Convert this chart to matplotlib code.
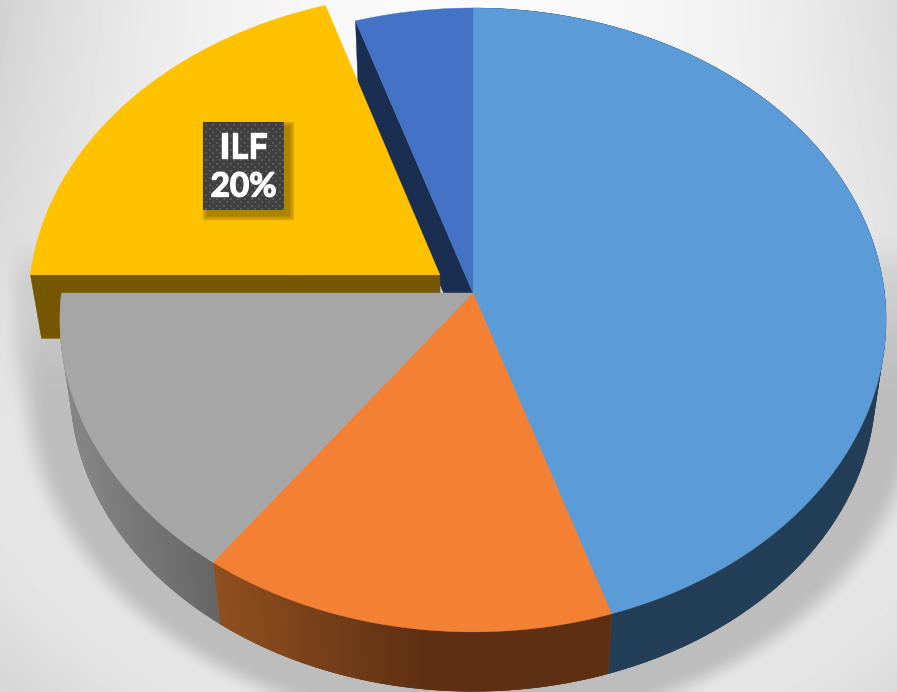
import numpy as np
import matplotlib
matplotlib.use('Agg')
import matplotlib.pyplot as plt
import matplotlib.patheffects as pe
from matplotlib.patches import Polygon, Rectangle
from matplotlib.colors import to_rgb

# slices, clockwise from 12 o'clock
slice_names = ['A', 'B', 'C', 'ILF', 'D']
shares = [45, 15, 15, 20, 5]
face_colors = ['#5B9BD7', '#F38033', '#A6A6A6', '#FFC200', '#4472C4']
label_text = 'ILF\n20%'

W, H = 897, 692
CX, CY = 473, 293       # pie centre on screen
A, B, K = 411.5, 309.6, 0.0864   # perspective of the disc
SCALE, DEPTH = 0.975, 68         # lower disc of the cylinder
EXPLODE = 0.1


def project(x, y, down=0, scale=1.0):
    den = 1 + K * y
    sx = A * x / den
    sy = -B * y / den
    return CX + scale * sx, CY + down + scale * sy


def arc_xy(a0, a1, n=120):
    t = np.radians(np.linspace(a0, a1, n))
    return np.sin(t), np.cos(t)


def smooth(v, lo, hi):
    u = np.clip((v - lo) / (hi - lo), 0, 1)
    return u * u * (3 - 2 * u)


def background():
    yy, xx = np.mgrid[0:H, 0:W].astype(float)
    dx = (xx - 473) / 470
    top = 250 - 28 * dx**2 - 12 * dx**4 * np.clip(1 - yy / 300, 0, 1)
    g = top * (1 - smooth(yy, 200, 480)) + 229 * smooth(yy, 200, 480)
    # distance outside the lower disc
    rho = np.sqrt(((xx - CX) / 403)**2 + ((yy - (CY + DEPTH + 26)) / 307)**2)
    d = (rho - 1) * 350
    g = g - 14 * smooth(rho, 1.2, 1.55) * smooth(yy, 350, 692)
    shadow = (1 - smooth(d, 22, 52)) * smooth(yy, 270, 390)
    g = g * (1 - shadow) + 189 * shadow
    # faint shade left of the pulled out slice
    left = (1 - smooth(445 - xx, 418, 445)) * smooth(yy, 225, 290) * (1 - smooth(yy, 340, 420))
    g = g * (1 - 0.55 * left) + 190 * 0.55 * left
    return g


fig = plt.figure(figsize=(W / 100, H / 100), dpi=100)
ax = fig.add_axes([0, 0, 1, 1])
ax.imshow(background(), cmap='gray', vmin=0, vmax=255, extent=(0, W, H, 0),
          interpolation='bilinear', zorder=0)

edges = np.cumsum([0] + shares) * 3.6
angle = dict((n, (edges[i], edges[i + 1])) for i, n in enumerate(slice_names))
face = dict(zip(slice_names, face_colors))


def add_poly(xs, ys, color, z, lw=0.3):
    ax.add_patch(Polygon(np.column_stack([xs, ys]), closed=True, fc=color, ec=color,
                         lw=lw, zorder=z))


def draw_face(name, z, ox=0.0, oy=0.0):
    a0, a1 = angle[name]
    x, y = arc_xy(a0, a1)
    xs, ys = project(np.r_[ox, x + ox], np.r_[oy, y + oy])
    add_poly(xs, ys, face[name], z)


def draw_wall(name, c0, c1, x0, x1, z):
    # strips along the rim, colour follows screen x between x0 and x1
    a0, a1 = angle[name]
    t = np.radians(np.linspace(a0, a1, 90))
    x, y = np.sin(t), np.cos(t)
    tx, ty = project(x, y)
    bx, by = project(x, y, DEPTH, SCALE)
    c0, c1 = np.array(to_rgb(c0)), np.array(to_rgb(c1))
    # one piece under the strips so no seams show
    add_poly(np.r_[tx, bx[::-1]], np.r_[ty, by[::-1]], tuple((c0 + c1) / 2), z)
    for i in range(len(t) - 1):
        u = np.clip((tx[i] - x0) / (x1 - x0), 0, 1)
        c = tuple(c0 + (c1 - c0) * u)
        # overlap next strip by one step
        j = min(i + 2, len(t) - 1)
        ax.add_patch(Polygon(np.column_stack([[tx[i], tx[j], bx[j], bx[i]],
                                              [ty[i], ty[j], by[j], by[i]]]),
                             closed=True, fc=c, ec='none', zorder=z))


# cut face of the small blue slice, behind everything else
t = np.radians(angle['D'][0])
sx, sy = np.sin(t), np.cos(t)
p0 = project(sx, sy)
p1 = project(0, 0)
p2 = project(0, 0, DEPTH, SCALE)
p3 = project(sx, sy, DEPTH, SCALE)
add_poly([p0[0], p1[0], p2[0], p3[0]], [p0[1], p1[1], p2[1], p3[1]], '#1A2E52', 2)

# pulled out slice
mid = np.radians(sum(angle['ILF']) / 2)
ox, oy = EXPLODE * np.sin(mid), EXPLODE * np.cos(mid)
t = np.radians(angle['ILF'][0])
lx, ly = np.sin(t) + ox, np.cos(t) + oy
q0 = project(lx, ly)
q1 = project(ox, oy)
q2 = project(ox, oy, 63, SCALE)
q3 = project(lx, ly, 63, SCALE)
add_poly([q0[0], q1[0], q2[0], q3[0]], [q0[1], q1[1], q2[1], q3[1]], '#745700', 3)
draw_face('ILF', 4, ox, oy)

# rim of the pie
draw_wall('A', '#233F57', '#233F57', 0, 1, 5)
draw_wall('B', '#8F5020', '#5E2F12', 218, 430, 5)
draw_wall('C', '#868686', '#666666', 70, 215, 5)

for n in ['A', 'B', 'C', 'D']:
    draw_face(n, 6)

# data label
bx0, by0, bw, bh = 203, 122, 81, 88
for i in range(10, 0, -1):
    ax.add_patch(Rectangle((bx0 + 5 - i * 0.6, by0 + 5 - i * 0.6), bw + i * 1.2, bh + i * 1.2,
                           fc='#6b5000', ec='none', alpha=0.07, zorder=7))
lab_box = Rectangle((bx0, by0), bw, bh, fc='#404040', ec='none', zorder=8)
ax.add_patch(lab_box)
dots_x, dots_y = [], []
for r, yy in enumerate(np.arange(by0 + 3, by0 + bh, 3.5)):
    for xx in np.arange(bx0 + 3 + (r % 2) * 3.5, bx0 + bw, 7):
        dots_x.append(xx)
        dots_y.append(yy)
ax.scatter(dots_x, dots_y, s=2.2, marker='s', c='#5a5a5a', linewidths=0, zorder=9)
first, second = label_text.split('\n')
heavy = [pe.withStroke(linewidth=1.0, foreground='white')]
ax.text(bx0 + bw / 2, by0 + 26, first, color='white', fontsize=25, fontweight='bold',
        family='Lato', ha='center', va='center', zorder=10, path_effects=heavy)
ax.text(bx0 + bw / 2, by0 + 65, second, color='white', fontsize=24, fontweight='bold',
        family='Lato', ha='center', va='center', zorder=10, path_effects=heavy)

ax.set_xlim(0, W)
ax.set_ylim(H, 0)
ax.axis('off')
fig.savefig('out.png', dpi=100)
